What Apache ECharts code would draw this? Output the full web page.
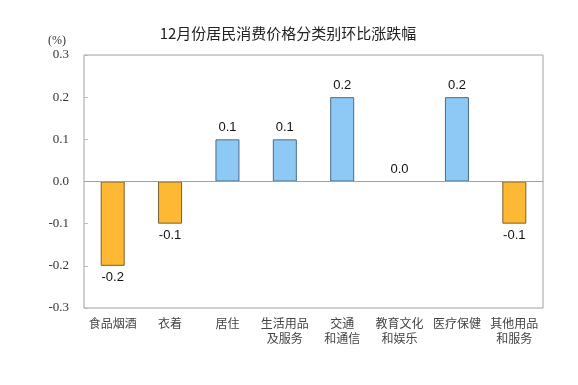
<!DOCTYPE html>
<html><head><meta charset="utf-8">
<script src="https://cdn.jsdelivr.net/npm/echarts@6/dist/echarts.min.js"></script>
<style>html,body{margin:0;padding:0;background:#fff}#c{width:578px;height:385px}</style>
</head><body><div id="c"></div>
<script>
const categories = ['食品烟酒','衣着','居住','生活用品\n及服务','交通\n和通信','教育文化\n和娱乐','医疗保健','其他用品\n和服务'];
const values = [-0.2, -0.1, 0.1, 0.1, 0.2, 0.0, 0.2, -0.1];
const yTicks = [-0.3, -0.2, -0.1, 0.0, 0.1, 0.2, 0.3];

const chart = echarts.init(document.getElementById('c'));
chart.setOption({
  animation: false,
  title: {
    text: '12月份居民消费价格分类别环比涨跌幅',
    left: 283, top: 21, textAlign: 'center',
    textStyle: {fontFamily: 'Noto Sans CJK SC', fontSize: 15, fontWeight: 'normal', color: '#222'}
  },
  graphic: [{type: 'text', left: 48, top: 35, style: {text: '(%)', font: '12px "Liberation Serif"', fill: '#333'}}],
  grid: {left: 84, right: 35, top: 55, bottom: 77, show: true, borderColor: '#a0a0a0', borderWidth: 1},
  xAxis: {
    type: 'category', data: categories,
    axisLine: {show: false}, axisTick: {show: false},
    axisLabel: {fontFamily: 'Noto Sans CJK SC', fontSize: 12, color: '#444', margin: 8, lineHeight: 15, interval: 0}
  },
  yAxis: {
    type: 'value', min: -0.3, max: 0.3, interval: 0.1,
    axisLine: {show: false},
    axisTick: {show: true, inside: true, length: 4, lineStyle: {color: '#bbb'}},
    splitLine: {show: false},
    axisLabel: {fontFamily: 'Liberation Serif', fontSize: 13, color: '#333', margin: 15,
      formatter: v => yTicks.includes(Math.round(v*10)/10) ? (Math.round(v*10)/10).toFixed(1) : ''}
  },
  series: [{
    type: 'bar', barWidth: 24,
    data: values.map(v => ({
      value: v,
      itemStyle: v < 0 ? {color: '#FDB934', borderColor: '#7a6030', borderWidth: 1}
                       : {color: '#8EC9F6', borderColor: '#4b6a86', borderWidth: 1},
      label: {position: v < 0 ? 'bottom' : 'top'}
    })),
    label: {show: true, fontFamily: 'Liberation Sans', fontSize: 13, color: '#111', distance: 5,
      formatter: p => p.value.toFixed(1)},
    markLine: {silent: true, symbol: 'none', label: {show: false},
      lineStyle: {color: '#a0a0a0', type: 'solid', width: 1}, data: [{yAxis: 0}]}
  }]
});
</script></body></html>
